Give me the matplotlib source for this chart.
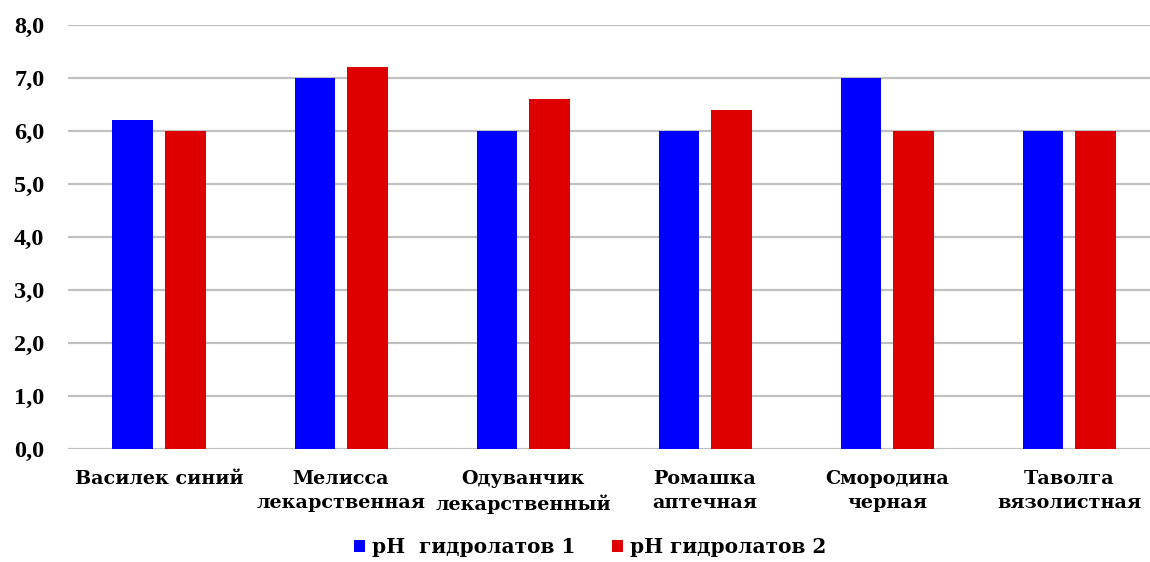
import matplotlib
matplotlib.use("Agg")
import matplotlib.pyplot as plt
import numpy as np

categories = [
    "Василек синий",
    "Мелисса\nлекарственная",
    "Одуванчик\nлекарственный",
    "Ромашка\nаптечная",
    "Смородина\nчерная",
    "Таволга\nвязолистная",
]
series_names = ["pH  гидролатов 1", "pH гидролатов 2"]
ph_1 = [6.2, 7.0, 6.0, 6.0, 7.0, 6.0]
ph_2 = [6.0, 7.2, 6.6, 6.4, 6.0, 6.0]
y_ticks = [0, 1, 2, 3, 4, 5, 6, 7, 8]

plt.rcParams["font.family"] = ["DejaVu Serif"]
plt.rcParams["font.weight"] = "bold"

fig = plt.figure(figsize=(11.5, 5.62), dpi=100)
ax = fig.add_axes([68 / 1150, 113 / 562, 1 - 68 / 1150, 424 / 562])

x = np.arange(len(categories))
w = 0.225
off = 0.143
ax.bar(x - off, ph_1, width=w, color="#0000FF", label=series_names[0], zorder=3)
ax.bar(x + off, ph_2, width=w, color="#DE0000", label=series_names[1], zorder=3)

ax.set_xlim(-0.5, 5.445)
ax.set_ylim(0, 8)
ax.set_yticks(y_ticks)
ax.set_yticklabels([f"{v:.1f}".replace(".", ",") for v in y_ticks])
for lbl in ax.get_yticklabels():
    lbl.set_fontfamily("Liberation Serif")
    lbl.set_fontsize(17.5)
    lbl.set_fontweight("bold")
ax.set_xticks(x)
ax.set_xticklabels(categories, fontsize=13.8, fontweight="bold", linespacing=1.42)
ax.tick_params(axis="y", length=0, pad=17)
ax.tick_params(axis="x", length=0, pad=15)
ax.grid(axis="y", color="#c0c0c0", linewidth=1.6, zorder=0)
for s in ax.spines.values():
    s.set_visible(False)

fig.legend(loc="center", bbox_to_anchor=(0.513, 15 / 562),
           ncol=2, frameon=False, handlelength=0.55,
           handleheight=0.6, handletextpad=0.35, columnspacing=1.8,
           prop={"weight": "bold", "size": 14.5, "family": "DejaVu Serif"})

fig.savefig("out.png", dpi=100, facecolor="white")
